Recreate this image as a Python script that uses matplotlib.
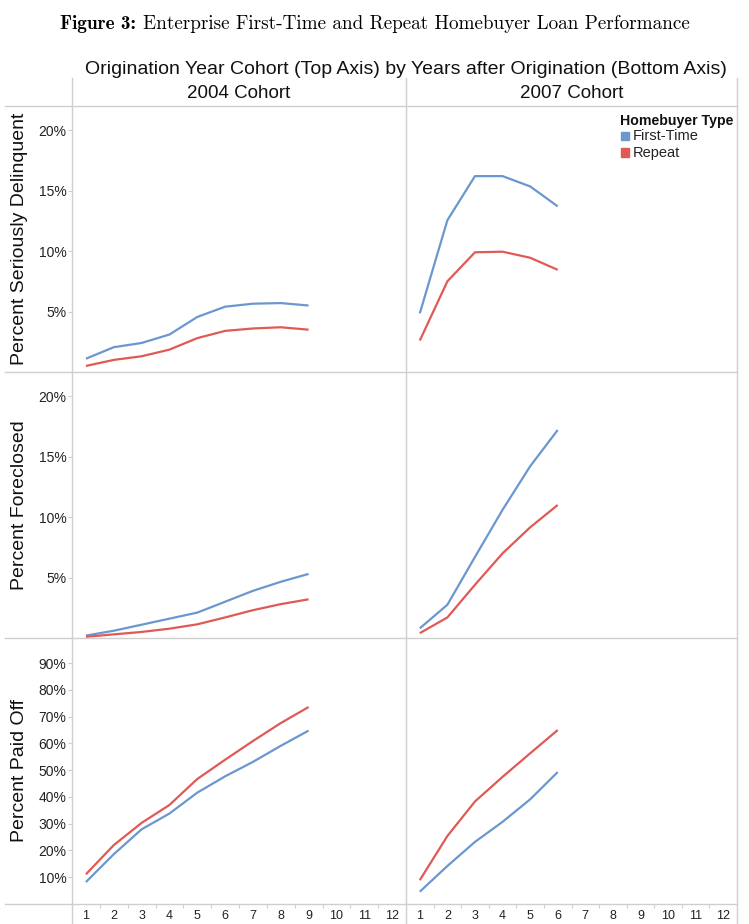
import matplotlib
matplotlib.use('Agg')
import matplotlib.pyplot as plt
from matplotlib.lines import Line2D
from matplotlib.ticker import FuncFormatter, FixedLocator

# --- data (percent) ---
years_2004 = [1, 2, 3, 4, 5, 6, 7, 8, 9]
years_2007 = [1, 2, 3, 4, 5, 6]

sdq_2004_first = [1.1, 2.05, 2.4, 3.1, 4.55, 5.4, 5.65, 5.7, 5.5]
sdq_2004_repeat = [0.5, 1.0, 1.3, 1.85, 2.8, 3.4, 3.6, 3.7, 3.5]
sdq_2007_first = [4.85, 12.55, 16.2, 16.2, 15.35, 13.7]
sdq_2007_repeat = [2.6, 7.5, 9.9, 9.95, 9.45, 8.45]

fc_2004_first = [0.2, 0.6, 1.1, 1.6, 2.1, 3.0, 3.9, 4.65, 5.3]
fc_2004_repeat = [0.1, 0.3, 0.5, 0.77, 1.13, 1.7, 2.3, 2.8, 3.2]
fc_2007_first = [0.8, 2.75, 6.7, 10.6, 14.2, 17.2]
fc_2007_repeat = [0.4, 1.7, 4.4, 7.0, 9.15, 11.0]

po_2004_first = [8.2, 18.6, 27.9, 33.8, 41.6, 47.7, 53.1, 59.1, 64.8]
po_2004_repeat = [11.1, 22.0, 30.3, 37.0, 46.7, 53.9, 60.9, 67.6, 73.6]
po_2007_first = [4.6, 14.2, 23.2, 30.7, 39.1, 49.3]
po_2007_repeat = [8.9, 25.4, 38.3, 47.5, 56.3, 65.0]

cohorts = ['2004 Cohort', '2007 Cohort']
row_labels = ['Percent Seriously Delinquent', 'Percent Foreclosed', 'Percent Paid Off']
row_ticks = [[5, 10, 15, 20], [5, 10, 15, 20], [10, 20, 30, 40, 50, 60, 70, 80, 90]]
row_ylim = [22.0, 22.0, 99.4]
x_ticks = list(range(1, 13))

BLUE = '#6b97cf'
RED = '#e05a55'
GRID = '#cfcfcf'
SANS = 'Liberation Sans'

W, H = 749, 924
fig = plt.figure(figsize=(W / 100, H / 100), dpi=100)


def fx(x):
    return x / W


def fy(y):
    return 1 - y / H


panels = [
    [(years_2004, sdq_2004_first, sdq_2004_repeat), (years_2007, sdq_2007_first, sdq_2007_repeat)],
    [(years_2004, fc_2004_first, fc_2004_repeat), (years_2007, fc_2007_first, fc_2007_repeat)],
    [(years_2004, po_2004_first, po_2004_repeat), (years_2007, po_2007_first, po_2007_repeat)],
]

col_x = [(72, 406), (406, 737)]
row_y = [(106, 372), (372, 638), (638, 904)]

for r in range(3):
    for c in range(2):
        x0, x1 = col_x[c]
        y0, y1 = row_y[r]
        ax = fig.add_axes([fx(x0), fy(y1), (x1 - x0) / W, (y1 - y0) / H])
        yrs, first, rep = panels[r][c]
        ax.plot(yrs, first, color=BLUE, lw=1.6, solid_capstyle='butt')
        ax.plot(yrs, rep, color=RED, lw=1.6, solid_capstyle='butt')
        ax.set_xlim(0.5, 12.5)
        ax.set_ylim(0, row_ylim[r])
        for s in ax.spines.values():
            s.set_visible(False)
        ax.set_facecolor('none')
        if c == 0:
            ax.yaxis.set_major_locator(FixedLocator(row_ticks[r]))
            ax.yaxis.set_major_formatter(FuncFormatter(lambda v, p: f'{v:.0f}%'))
            ax.tick_params(axis='y', length=3, width=0.8, color=GRID, pad=1,
                           labelsize=10, labelcolor='#222222')
            for lab in ax.get_yticklabels():
                lab.set_family(SANS)
        else:
            ax.set_yticks([])
        if r == 2:
            ax.set_xticks(x_ticks)
            ax.set_xticks([t + 0.5 for t in x_ticks[:-1]], minor=True)
            ax.tick_params(axis='x', which='major', length=0, pad=4,
                           labelsize=9, labelcolor='#222222')
            ax.tick_params(axis='x', which='minor', length=3, width=0.8, color=GRID)
            for lab in ax.get_xticklabels():
                lab.set_family(SANS)
        else:
            ax.set_xticks([])

# borders of the Tableau-style grid
lines = [
    ((72, 72), (78, 924)),
    ((406, 406), (78, 924)),
    ((737, 737), (78, 924)),
    ((5, 737), (106, 106)),
    ((5, 737), (372, 372)),
    ((5, 737), (638, 638)),
    ((5, 737), (904, 904)),
]
for (xa, xb), (ya, yb) in lines:
    fig.add_artist(Line2D([fx(xa), fx(xb)], [fy(ya), fy(yb)], color=GRID, lw=1.0))

# title: bold label + roman text, Computer Modern, centred on the figure
renderer = fig.canvas.get_renderer()
t1 = fig.text(0, fy(24), 'Figure 3:', family='cmb10', fontsize=13.8,
              ha='left', va='center')
t2 = fig.text(0, fy(24), 'Enterprise First-Time and Repeat Homebuyer Loan Performance',
              family='cmr10', fontsize=13.8, ha='left', va='center')
w1 = t1.get_window_extent(renderer).width
w2 = t2.get_window_extent(renderer).width
gap = 7
start = (W - (w1 + gap + w2)) / 2
t1.set_x(start / W)
t2.set_x((start + w1 + gap) / W)

# headers
fig.text(fx(406), fy(70), 'Origination Year Cohort (Top Axis) by Years after Origination (Bottom Axis)',
         ha='center', va='center', fontsize=14, family=SANS, color='#111111')
for c, name in enumerate(cohorts):
    x0, x1 = col_x[c]
    fig.text(fx((x0 + x1) / 2), fy(94), name, ha='center', va='center',
             fontsize=13.5, family=SANS, color='#111111')

for r, name in enumerate(row_labels):
    y0, y1 = row_y[r]
    fig.text(fx(20), fy((y0 + y1) / 2), name, rotation=90, ha='center', va='center',
             fontsize=14, family=SANS, color='#111111')

# legend
fig.text(fx(620), fy(121), 'Homebuyer Type', fontsize=10.2, weight='bold', family=SANS,
         ha='left', va='center', color='#111111')
for i, (lab, col) in enumerate([('First-Time', BLUE), ('Repeat', RED)]):
    yy = 136 + i * 16.5
    fig.patches.append(plt.Rectangle((fx(621), fy(yy + 4)), 8 / W, 8 / H, color=col,
                                     transform=fig.transFigure, figure=fig))
    fig.text(fx(633), fy(yy), lab, fontsize=10.5, family=SANS, ha='left', va='center',
             color='#222222')

fig.savefig('out.png', dpi=100)
